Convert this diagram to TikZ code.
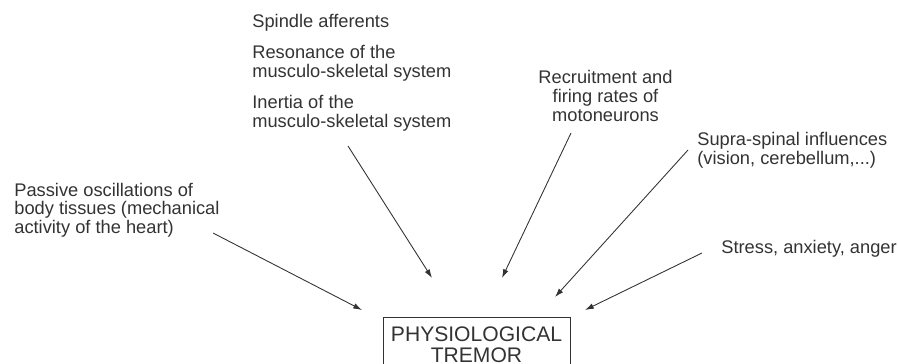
\documentclass[tikz,border=0pt]{standalone}
\usepackage{fontspec}
\setmainfont{Liberation Sans}
\usetikzlibrary{arrows.meta}
\definecolor{Cinkgrey}{HTML}{333333}

\begin{document}
\begin{tikzpicture}[x=0.02cm,y=-0.02cm,
	cause/.style={inner sep=0pt,font=\fontsize{10.4}{10.6}\selectfont,text=Cinkgrey,align=left,anchor=west},
	feed/.style={-{Latex[length=5pt,width=3.2pt]},line width=0.5pt,Cinkgrey}]
		\useasboundingbox (0,0) rectangle (898,364);
		% causes
		\node[cause] (spindle) at (252,23) {Spindle afferents};
		\node[cause] (resonance) at (252,63) {Resonance of the\\musculo-skeletal system};
		\node[cause] (inertia) at (252,113.5) {Inertia of the\\musculo-skeletal system};
		\node[cause,align=center,anchor=center] (recruit) at (605.5,96) {Recruitment and\\firing rates of\\motoneurons};
		\node[cause] (supra) at (697,150) {Supra-spinal influences\\(vision, cerebellum,...)};
		\node[cause] (passive) at (14,210) {Passive oscillations of\\body tissues (mechanical\\activity of the heart)};
		\node[cause] (stress) at (721,249) {Stress, anxiety, anger};
		% result (box runs off the bottom edge)
		\node[draw=Cinkgrey,line width=0.5pt,text=Cinkgrey,align=center,inner sep=0pt,
		minimum width=3.74cm,minimum height=1.08cm,font=\fontsize{12}{12}\selectfont,
		anchor=north] (tremor) at (476.5,317) {PHYSIOLOGICAL\\TREMOR};
		% arrow ends
		\coordinate (passive-s) at (213,233);  \coordinate (passive-e) at (362,310);
		\coordinate (inertia-s) at (348,146);  \coordinate (inertia-e) at (432,278);
		\coordinate (recruit-s) at (571,133);  \coordinate (recruit-e) at (502,278);
		\coordinate (supra-s) at (688,150);    \coordinate (supra-e) at (555,297);
		\coordinate (stress-s) at (702,253);   \coordinate (stress-e) at (585,310);
		\foreach \c in {passive,inertia,recruit,supra,stress}
		\draw[feed] (\c-s) -- (\c-e);
\end{tikzpicture}
\end{document}
